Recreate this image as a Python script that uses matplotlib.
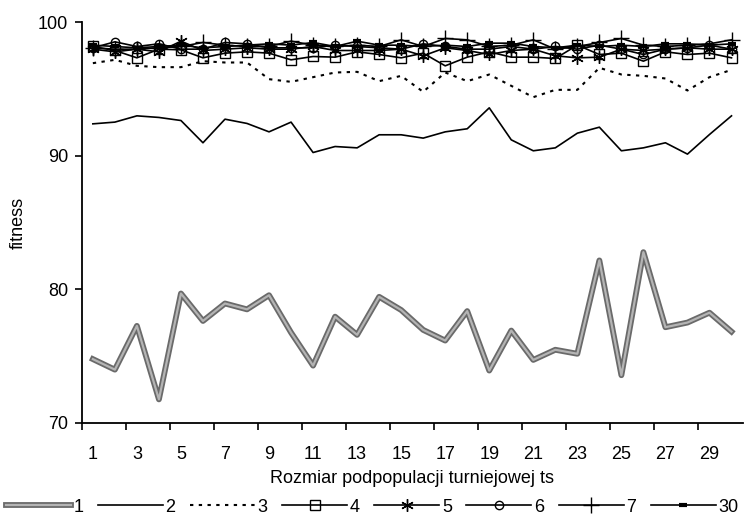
import numpy as np
import matplotlib
matplotlib.use("Agg")
import matplotlib.pyplot as plt
import matplotlib.patheffects as pe

plt.rcParams['font.family'] = ['Liberation Sans', 'DejaVu Sans']

# tournament subpopulation size (categories on the x axis)
ts = np.arange(1, 31)
tick_labels = [str(i) for i in range(1, 30, 2)]

# mean fitness for each number of subpopulations
fit_1 = [74.76, 73.97, 77.25, 71.74, 79.68, 77.62, 78.93, 78.49, 79.55, 76.75,
         74.27, 77.94, 76.58, 79.43, 78.44, 76.95, 76.15, 78.36, 73.90, 76.90,
         74.70, 75.46, 75.16, 82.16, 73.55, 82.78, 77.15, 77.50, 78.24, 76.82]
fit_2 = [92.40, 92.53, 93.00, 92.88, 92.65, 90.98, 92.75, 92.43, 91.80, 92.53,
         90.25, 90.70, 90.60, 91.58, 91.58, 91.33, 91.80, 92.03, 93.60, 91.20,
         90.38, 90.60, 91.70, 92.15, 90.38, 90.60, 90.98, 90.13, 91.60, 93.00]
fit_3 = [96.95, 97.20, 96.75, 96.65, 96.65, 97.10, 97.00, 97.00, 95.75, 95.55,
         95.90, 96.25, 96.30, 95.60, 96.00, 94.80, 96.25, 95.60, 96.10, 95.25,
         94.40, 94.95, 94.95, 96.60, 96.10, 96.00, 95.80, 94.90, 95.90, 96.45]
fit_4 = [98.20, 97.90, 97.35, 98.00, 97.95, 97.35, 97.70, 97.80, 97.70, 97.20,
         97.45, 97.40, 97.80, 97.60, 97.35, 97.70, 96.75, 97.40, 97.80, 97.40,
         97.40, 97.30, 98.30, 97.60, 97.70, 97.10, 97.80, 97.60, 97.70, 97.35]
fit_5 = [98.00, 97.80, 98.00, 97.80, 98.60, 97.90, 98.00, 98.10, 98.00, 98.00,
         98.20, 97.90, 97.90, 97.90, 98.00, 97.50, 98.10, 97.90, 97.60, 97.90,
         98.00, 97.50, 97.35, 97.40, 98.00, 97.90, 98.00, 98.10, 98.00, 98.00]
fit_6 = [98.10, 98.55, 98.20, 98.40, 98.00, 98.00, 98.50, 98.40, 98.10, 98.10,
         98.10, 98.30, 98.20, 98.10, 98.00, 98.40, 98.20, 98.00, 98.00, 98.20,
         98.00, 98.20, 98.00, 98.30, 98.00, 97.60, 98.00, 98.10, 98.30, 98.00]
fit_7 = [98.10, 98.00, 98.00, 98.10, 98.20, 98.50, 98.30, 98.20, 98.20, 98.60,
         98.30, 98.20, 98.30, 98.20, 98.70, 98.20, 98.80, 98.70, 98.20, 98.30,
         98.70, 98.00, 98.20, 98.50, 98.80, 98.30, 98.20, 98.30, 98.40, 98.70]
fit_30 = [98.30, 98.20, 98.10, 98.20, 98.30, 98.10, 98.20, 98.30, 98.40, 98.30,
          98.50, 98.20, 98.60, 98.30, 98.30, 98.20, 98.30, 98.20, 98.45, 98.45,
          98.20, 98.10, 98.30, 98.20, 98.30, 98.20, 98.40, 98.40, 98.30, 98.40]

fig = plt.figure(figsize=(7.44, 5.23), dpi=100)
ax = fig.add_axes([0.110, 0.192, 0.888, 0.765])

# patterned grey band for the single-population run
band = [pe.Stroke(linewidth=4.2, foreground='#6a6a6a'), pe.Normal()]
ax.plot(ts, fit_1, color='#b4b4b4', lw=1.6, label='1', path_effects=band)
ax.plot(ts, fit_2, color='black', lw=1.2, label='2')
ax.plot(ts, fit_3, color='black', lw=1.5, ls=(0, (1.6, 2.6)), label='3')

mk = dict(color='black', lw=1.2, mfc='none', mec='black')
ax.plot(ts, fit_4, marker='s', ms=6.5, mew=1.0, label='4', **mk)
ax.plot(ts, fit_5, marker=(6, 2, 0), ms=9, mew=1.0, label='5', **mk)
ax.plot(ts, fit_6, marker='o', ms=6, mew=1.0, label='6', **mk)
ax.plot(ts, fit_7, marker='+', ms=11, mew=1.0, label='7', **mk)
ax.plot(ts, fit_30, marker='_', ms=6, mew=3, label='30', **mk)

ax.set_xlim(0.5, 30.5)
ax.set_ylim(70, 100)
ax.set_yticks([70, 80, 90, 100])

# tick marks between categories, labels centred on every other category
ax.set_xticks(np.arange(0.5, 29, 2))
ax.set_xticklabels([])
ax.set_xticks(np.arange(1, 30, 2), minor=True)
ax.set_xticklabels(tick_labels, minor=True)
ax.tick_params(axis='x', which='minor', length=0, pad=17, labelsize=13)
ax.tick_params(axis='both', which='major', direction='out', length=5,
               width=1.2, labelsize=13)
ax.tick_params(axis='y', pad=5)

for s in ['top', 'right']:
    ax.spines[s].set_visible(False)
for s in ['left', 'bottom']:
    ax.spines[s].set_linewidth(1.3)

ax.set_xlabel('Rozmiar podpopulacji turniejowej ts', fontsize=13, labelpad=5)
ax.set_ylabel('fitness', fontsize=13, labelpad=8)

fig.legend(loc='center', bbox_to_anchor=(0.5, 0.03), ncol=8, frameon=False,
           fontsize=13, handlelength=3.6, handletextpad=0.15,
           columnspacing=0.8, borderaxespad=0)

fig.savefig('out.png', dpi=100)
